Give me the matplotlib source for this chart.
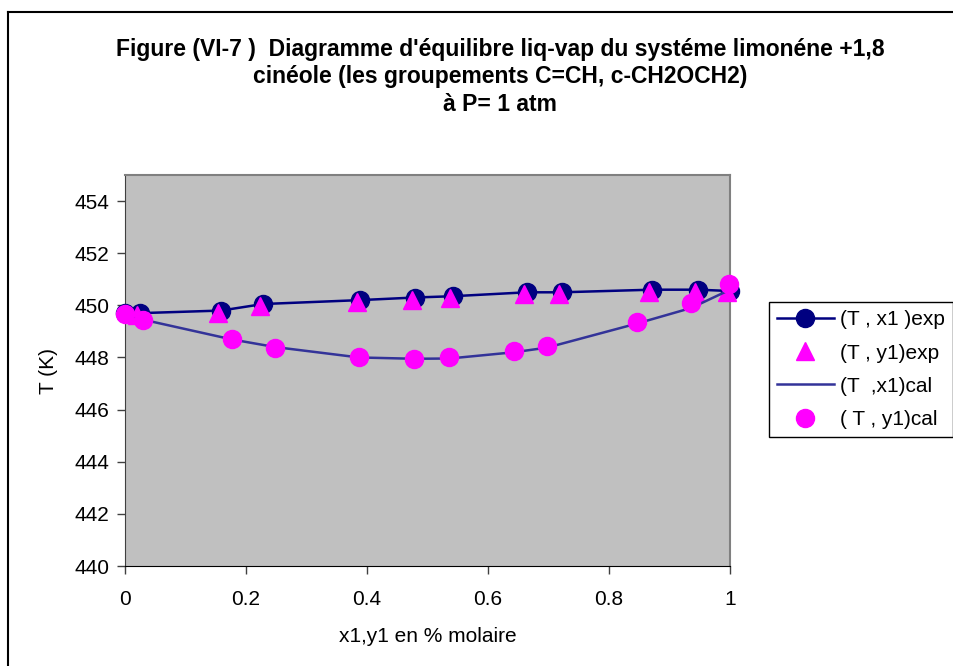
import matplotlib
matplotlib.use('Agg')
import matplotlib.pyplot as plt
from matplotlib.lines import Line2D

plt.rcParams['font.family'] = ['Liberation Sans', 'DejaVu Sans']

# données
x1_exp = [0.0, 0.025, 0.159, 0.228, 0.388, 0.479, 0.542, 0.664, 0.722, 0.871, 0.947, 1.0]
T_x1_exp = [449.7, 449.7, 449.8, 450.05, 450.2, 450.3, 450.35, 450.5, 450.5, 450.6, 450.6, 450.55]

y1_exp = [0.02, 0.154, 0.223, 0.383, 0.474, 0.537, 0.659, 0.717, 0.866, 0.942, 0.995]
T_y1_exp = [449.62, 449.72, 449.97, 450.12, 450.22, 450.27, 450.42, 450.42, 450.52, 450.52, 450.5]

x1_cal = [0.0, 0.03, 0.177, 0.248, 0.387, 0.478, 0.536, 0.643, 0.698, 0.846, 0.936, 1.0]
T_x1_cal = [449.6, 449.45, 448.69, 448.4, 448.0, 447.95, 447.96, 448.2, 448.38, 449.3, 449.9, 450.6]

y1_cal = [0.0, 0.03, 0.177, 0.248, 0.387, 0.478, 0.536, 0.643, 0.698, 0.846, 0.936, 0.998]
T_y1_cal = [449.68, 449.45, 448.69, 448.38, 448.0, 447.96, 448.0, 448.26, 448.45, 449.37, 450.1, 450.8]

x_ticks = [0, 0.2, 0.4, 0.6, 0.8, 1]
x_ticklabels = ['0', '0.2', '0.4', '0.6', '0.8', '1']
y_ticks = [440, 442, 444, 446, 448, 450, 452, 454]

title = ("Figure (VI-7 )  Diagramme d'équilibre liq-vap du systéme limonéne +1,8\n"
         "cinéole (les groupements C=CH, c-CH2OCH2)\n"
         "à P= 1 atm")

fig = plt.figure(figsize=(9.54, 6.66), dpi=100)
ax = fig.add_axes([125 / 954, 100 / 666, 605 / 954, 391 / 666])
ax.set_facecolor('#C0C0C0')

ax.plot(x1_exp, T_x1_exp, '-o', color='#000080', lw=1.8, ms=13,
        label='(T , x1 )exp', clip_on=False, zorder=3)
ax.plot(y1_exp, T_y1_exp, '^', color='#FF00FF', ms=12.5, ls='none',
        label='(T , y1)exp', clip_on=False, zorder=4)
ax.plot(x1_cal, T_x1_cal, '-', color='#333399', lw=1.8,
        label='(T  ,x1)cal', clip_on=False, zorder=5)
ax.plot(y1_cal, T_y1_cal, 'o', color='#FF00FF', ms=13, ls='none',
        label='( T , y1)cal', clip_on=False, zorder=6)

ax.set_xlim(0, 1)
ax.set_ylim(440, 455)
ax.set_xticks(x_ticks)
ax.set_xticklabels(x_ticklabels)
ax.set_yticks(y_ticks)
ax.tick_params(labelsize=15, length=6, width=1, color='#404040')
ax.tick_params(axis='x', pad=11)
ax.tick_params(axis='y', pad=5)

for s in ['top', 'right']:
    ax.spines[s].set_color('#808080')
    ax.spines[s].set_linewidth(1.5)
ax.spines['left'].set_color('#404040')
ax.spines['bottom'].set_color('#000000')

ax.set_xlabel('x1,y1 en % molaire', fontsize=15, labelpad=13)
ax.set_ylabel('T (K)', fontsize=15, labelpad=12)

fig.text(0.524, 0.9435, title, ha='center', va='top', fontsize=16.5,
         fontweight='bold', linespacing=1.26)

leg = ax.legend(loc='upper left', bbox_to_anchor=(769 / 954, 1 - 302 / 666),
                bbox_transform=fig.transFigure, fontsize=15, numpoints=1,
                frameon=True, fancybox=False, framealpha=1, edgecolor='black',
                handlelength=2.7, handletextpad=0.3, labelspacing=0.68,
                borderpad=0.4, borderaxespad=0)
leg.get_frame().set_linewidth(1)

# cadre de la figure
fig.add_artist(Line2D([8 / 954, 8 / 954], [0, 1 - 12 / 666], color='black', lw=1.5))
fig.add_artist(Line2D([8 / 954, 1], [1 - 12 / 666, 1 - 12 / 666], color='black', lw=1.5))

fig.savefig('out.png', dpi=100)
